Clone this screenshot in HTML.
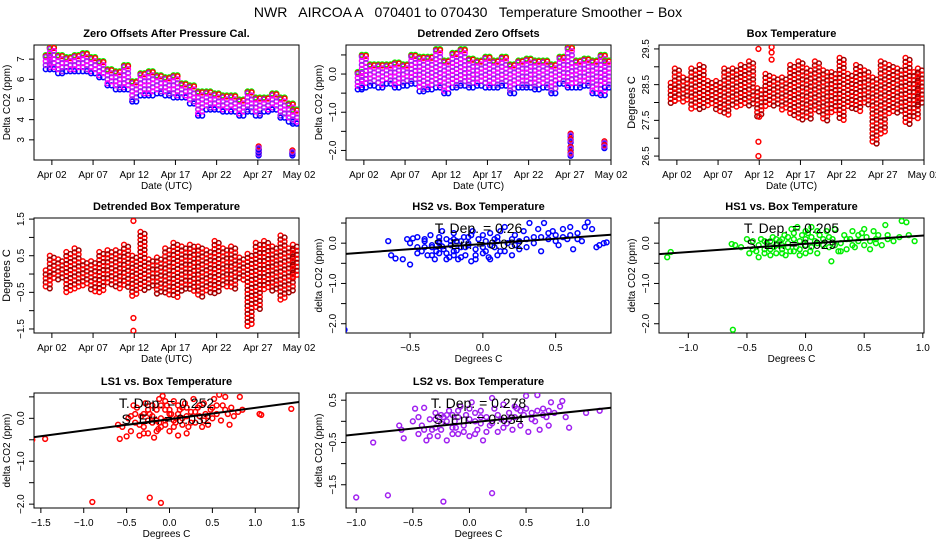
<!DOCTYPE html>
<html><head><meta charset="utf-8"><style>
html,body{margin:0;padding:0;background:#fff}
svg{display:block;font-family:"Liberation Sans",sans-serif}
</style></head><body>
<svg id="chart" width="936" height="540" viewBox="0 0 936 540" xmlns="http://www.w3.org/2000/svg">
<rect width="936" height="540" fill="#fff"/>
<text x="468" y="17" text-anchor="middle" font-size="14" style="white-space:pre" xml:space="preserve">NWR   AIRCOA A   070401 to 070430   Temperature Smoother − Box</text>
</svg>
<script>
// ---------- data ----------
const days = [0.5,1,2,3,4,5,6,7,8,9,10,11,12,13,14,15,16,17,18,19,20,21,22,23,24,25,26,27,28,29,30,30.5];
const zeroLo = [6.6,6.6,6.4,6.5,6.5,6.5,6.4,6.2,5.8,5.6,5.6,5.0,5.3,5.3,5.4,5.3,5.2,5.2,4.9,4.3,4.6,4.6,4.5,4.5,4.3,4.5,4.3,4.5,4.6,4.2,4.0,3.9];
const zeroHi = [7.1,7.5,7.1,7.0,7.1,7.2,7.0,6.8,6.4,6.3,6.6,5.8,6.2,6.3,6.1,6.0,6.1,5.7,5.6,5.3,5.3,5.2,5.1,5.1,4.9,5.3,5.0,5.0,5.2,5.0,4.7,4.4];
const zeroOut = [[26.1,2.3],[26.1,2.45],[26.1,2.6],[30.2,2.3],[30.2,2.4]];
const detLo = [-0.35,-0.3,-0.25,-0.3,-0.2,-0.3,-0.25,-0.2,-0.4,-0.35,-0.3,-0.45,-0.3,-0.25,-0.3,-0.25,-0.3,-0.3,-0.25,-0.45,-0.3,-0.3,-0.35,-0.3,-0.45,-0.2,-0.3,-0.3,-0.25,-0.45,-0.5,-0.3];
const detHi = [0.0,0.45,0.2,0.2,0.2,0.25,0.2,0.45,0.4,0.4,0.6,0.3,0.5,0.6,0.35,0.3,0.4,0.3,0.4,0.2,0.3,0.35,0.3,0.3,0.2,0.4,0.65,0.3,0.35,0.3,0.45,0.3];
const detOut = [[26.1,-1.6],[26.1,-1.75],[26.1,-1.95],[26.1,-2.1],[30.2,-1.8],[30.2,-1.9]];
const boxLo = [27.95,28.05,28.0,27.8,27.8,27.9,27.75,27.65,27.85,27.9,27.9,27.6,27.9,27.9,27.75,27.65,27.5,27.55,27.7,27.5,27.7,27.5,27.8,27.75,27.9,26.8,27.1,27.7,27.7,27.4,27.55,27.9];
const boxHi = [28.55,28.95,28.7,28.95,29.05,28.6,28.6,28.95,28.95,29.05,29.15,28.4,28.8,28.7,28.7,29.05,29.15,28.95,29.15,28.9,28.85,29.25,28.8,29.05,28.9,28.7,29.15,29.05,28.95,29.25,28.85,28.95];
const boxOut = [[10.9,29.5],[10.9,26.9],[10.9,26.5],[11,27.6],[12.5,29.55],[12.5,29.4],[12.5,29.2]];
const dbtLo = [-0.4,-0.2,-0.2,-0.5,-0.4,-0.35,-0.5,-0.5,-0.3,-0.4,-0.4,-0.6,-0.45,-0.4,-0.55,-0.6,-0.65,-0.5,-0.5,-0.65,-0.5,-0.55,-0.35,-0.4,-0.2,-1.45,-1.0,-0.45,-0.5,-0.75,-0.55,-0.1];
const dbtHi = [0.1,0.5,0.4,0.6,0.7,0.35,0.35,0.6,0.65,0.65,0.8,0.5,1.15,0.4,0.45,0.7,0.85,0.75,0.8,0.75,0.65,0.9,0.7,0.75,0.45,0.55,0.85,0.9,0.75,1.05,0.7,0.8];
const dbtOut = [[10.9,1.45],[10.9,-1.2],[10.9,-1.55]];
const dateTicks = [1,6,11,16,21,26,31];
const dateLabels = ["Apr 02","Apr 07","Apr 12","Apr 17","Apr 22","Apr 27","May 02"];

const hs2Pts = [[-0.65,0.05],[-0.63,-0.3],[-0.6,-0.38],[-0.55,-0.4],[-0.5,-0.53],[-0.52,0.1],[-0.48,0.12],[-0.45,-0.1],[-0.42,-0.2],[-0.4,0.05],[-0.38,-0.3],[-0.36,0.2],[-0.35,-0.1],[-0.33,-0.4],[-0.3,0.0],[-0.3,-0.25],[-0.28,0.3],[-0.27,-0.15],[-0.25,0.1],[-0.23,-0.35],[-0.22,-0.05],[-0.2,0.25],[-0.2,-0.2],[-0.18,0.05],[-0.17,-0.4],[-0.15,-0.1],[-0.13,0.15],[-0.12,-0.3],[-0.1,0.0],[-0.08,-0.45],[-0.07,0.3],[-0.05,-0.15],[-0.03,0.1],[0.0,-0.25],[0.02,0.05],[0.04,-0.35],[0.05,0.25],[0.08,-0.1],[0.1,0.15],[0.12,-0.2],[0.15,0.4],[0.17,0.0],[0.2,-0.3],[0.22,0.2],[0.25,0.05],[0.28,0.3],[0.3,-0.1],[0.32,0.5],[0.35,0.15],[0.38,0.35],[0.4,-0.2],[0.42,0.5],[0.45,0.1],[0.48,0.3],[0.5,0.2],[0.52,-0.05],[0.55,0.35],[0.58,0.1],[0.6,0.4],[0.62,-0.15],[0.65,0.25],[0.68,0.05],[0.7,0.4],[0.72,0.52],[0.75,0.35],[0.78,-0.1],[0.8,-0.05],[0.83,0.0],[0.85,0.02],[-0.95,-2.15],[-0.35,-0.05],[-0.25,-0.25],[-0.15,0.05],[-0.05,-0.3],[0.05,-0.05],[-0.3,0.15],[-0.2,-0.3],[-0.1,0.15],[0.0,0.2],[-0.4,-0.1],[0.1,-0.3],[0.2,0.1],[-0.12,-0.1],[-0.22,0.05],[0.08,0.1],[-0.32,-0.2],[-0.45,-0.25],[-0.35,-0.3],[-0.25,-0.4],[-0.15,-0.35],[-0.05,-0.4],[0.05,-0.4],[-0.4,0.1],[-0.3,0.05],[-0.2,0.1],[-0.1,-0.05],[0.0,-0.1],[0.1,0.05],[0.15,-0.2],[0.25,-0.15],[0.3,0.1],[0.35,0.0],[0.45,0.25],[0.5,0.05],[0.55,0.15],[0.6,0.2],[0.65,0.1],[-0.5,0.0],[-0.45,0.15],[-0.28,-0.08],[-0.18,-0.18],[-0.08,0.2],[0.02,-0.2],[0.12,0.3],[0.22,-0.05],[0.4,0.15]];
const hs1Pts = [[-1.18,-0.35],[-1.15,-0.22],[-0.63,-0.02],[-0.6,-0.05],[-0.62,-2.15],[-0.55,-0.1],[-0.5,0.1],[-0.48,-0.25],[-0.45,0.05],[-0.42,-0.2],[-0.4,-0.35],[-0.38,0.1],[-0.35,-0.15],[-0.33,0.0],[-0.3,-0.3],[-0.28,0.15],[-0.27,-0.1],[-0.25,-0.25],[-0.22,0.05],[-0.2,-0.15],[-0.18,0.2],[-0.17,-0.3],[-0.15,0.0],[-0.13,-0.2],[-0.12,0.35],[-0.1,0.1],[-0.08,-0.1],[-0.07,0.4],[-0.05,-0.3],[-0.03,0.2],[0.0,-0.05],[0.02,0.25],[0.04,-0.2],[0.05,0.4],[0.08,0.05],[0.1,-0.25],[0.12,0.2],[0.15,-0.05],[0.18,0.3],[0.2,-0.1],[0.22,-0.45],[0.23,0.1],[0.25,0.35],[0.28,-0.2],[0.3,0.0],[0.33,0.2],[0.35,-0.15],[0.38,0.1],[0.4,0.3],[0.42,-0.1],[0.45,0.05],[0.48,0.25],[0.5,-0.05],[0.52,0.15],[0.55,-0.15],[0.58,0.3],[0.6,0.0],[0.62,0.2],[0.65,-0.05],[0.68,0.45],[0.7,0.1],[0.75,0.05],[0.8,0.15],[0.82,0.55],[0.86,0.52],[0.88,0.2],[0.93,0.05],[-0.3,0.05],[-0.2,-0.05],[-0.1,-0.2],[0.0,0.1],[0.1,0.0],[-0.4,-0.05],[-0.15,0.15],[0.05,-0.1],[0.2,0.15],[-0.25,0.1],[-0.05,0.05],[-0.45,-0.15],[-0.35,0.05],[-0.25,-0.05],[-0.15,-0.1],[-0.05,-0.15],[0.05,0.15],[0.15,0.1],[0.25,-0.05],[0.35,0.1],[0.45,0.2],[0.55,0.05],[-0.3,-0.15],[-0.2,0.1],[-0.1,0.25],[0.0,0.3],[0.1,0.3],[-0.35,-0.25],[-0.2,-0.25],[0.0,-0.25],[0.3,-0.2],[0.4,-0.05],[0.5,0.35],[0.6,0.1],[0.7,0.2]];
const ls1Pts = [[-1.6,-0.5],[-1.45,-0.48],[-0.9,-1.95],[-0.23,-1.85],[-0.1,-1.97],[1.05,0.1],[1.07,0.08],[1.42,0.22],[-0.6,-0.15],[-0.58,-0.48],[-0.55,-0.2],[-0.5,-0.42],[-0.48,0.0],[-0.45,-0.3],[-0.42,0.3],[-0.4,-0.1],[-0.38,0.25],[-0.35,-0.4],[-0.33,0.05],[-0.3,-0.2],[-0.28,0.35],[-0.25,-0.35],[-0.23,0.1],[-0.2,-0.1],[-0.18,-0.45],[-0.15,0.2],[-0.13,-0.25],[-0.12,0.45],[-0.1,0.0],[-0.08,0.52],[-0.05,-0.15],[-0.03,0.3],[0.0,-0.3],[0.02,0.1],[0.05,0.4],[0.07,-0.1],[0.1,-0.4],[0.12,0.2],[0.15,0.0],[0.18,0.35],[0.2,-0.35],[0.22,-0.2],[0.25,0.15],[0.28,0.45],[0.3,-0.1],[0.33,0.25],[0.35,0.05],[0.38,-0.2],[0.4,0.35],[0.42,0.1],[0.45,-0.15],[0.48,0.2],[0.5,0.0],[0.52,0.45],[0.55,0.1],[0.58,0.55],[0.6,-0.05],[0.62,0.3],[0.65,0.5],[0.68,0.1],[0.7,-0.15],[0.72,0.25],[0.75,0.05],[0.8,0.15],[0.82,0.5],[0.85,0.2],[-0.2,0.05],[-0.1,-0.2],[0.0,0.1],[0.1,0.1],[-0.3,0.1],[-0.15,-0.05],[0.05,-0.05],[-0.05,0.2],[-0.25,-0.05],[0.15,-0.15],[0.2,0.25],[-0.4,0.1],[-0.35,-0.15],[-0.25,0.2],[-0.15,-0.3],[-0.05,0.4],[0.05,-0.2],[0.15,0.25],[0.25,-0.1],[0.35,0.3],[0.45,0.05],[0.55,0.3],[0.65,0.2],[-0.45,0.05],[-0.2,0.3],[-0.1,0.3],[0.0,0.2],[0.1,0.3],[-0.3,-0.35],[-0.12,-0.1],[0.08,0.0],[0.3,0.15],[0.4,-0.05],[0.5,0.25],[-0.05,-0.05],[0.2,0.05]];
const ls2Pts = [[-1.0,-1.8],[-0.72,-1.75],[-0.23,-1.9],[0.2,-1.7],[-0.85,-0.5],[1.03,0.2],[1.15,0.25],[0.88,-0.15],[-0.62,-0.1],[-0.6,-0.2],[-0.58,-0.4],[-0.5,0.0],[-0.48,0.3],[-0.45,-0.3],[-0.42,-0.1],[-0.4,0.32],[-0.38,-0.45],[-0.35,0.05],[-0.33,-0.2],[-0.3,0.2],[-0.28,-0.35],[-0.25,-0.05],[-0.23,0.1],[-0.2,-0.45],[-0.18,0.25],[-0.15,-0.15],[-0.13,0.0],[-0.1,-0.3],[-0.08,0.35],[-0.05,-0.1],[-0.03,0.15],[0.0,-0.35],[0.02,0.45],[0.05,0.0],[0.07,-0.2],[0.1,0.25],[0.12,-0.45],[0.15,0.1],[0.18,-0.1],[0.2,0.55],[0.22,0.3],[0.25,-0.25],[0.28,0.05],[0.3,0.4],[0.33,-0.05],[0.35,0.2],[0.38,-0.2],[0.4,0.1],[0.42,0.3],[0.45,-0.1],[0.48,0.15],[0.5,0.6],[0.52,-0.25],[0.55,0.2],[0.58,0.0],[0.6,0.62],[0.62,-0.2],[0.65,0.3],[0.68,0.1],[0.7,-0.1],[0.72,0.45],[0.75,0.2],[0.8,0.35],[0.82,0.48],[0.85,0.1],[-0.2,0.0],[-0.1,0.1],[0.0,0.05],[0.1,-0.05],[-0.3,-0.15],[-0.15,0.15],[0.05,0.2],[0.2,-0.05],[-0.25,0.15],[-0.4,-0.2],[-0.35,-0.35],[-0.25,-0.2],[-0.15,-0.3],[-0.05,-0.25],[0.05,-0.3],[0.15,-0.25],[0.25,0.15],[0.35,0.05],[0.45,0.25],[0.55,0.05],[0.65,0.15],[-0.3,0.05],[-0.2,0.15],[-0.1,0.25],[0.0,0.3],[0.1,0.1],[0.3,-0.15],[0.4,0.35],[0.5,0.3],[0.6,0.25],[0.7,0.25],[-0.45,0.1],[-0.12,-0.15]];
const fitSlope = [0.26,0.205,0.265,0.28];
const fitIntercept = [-0.02,-0.015,-0.02,-0.03];
const fitTDep = ["0.26","0.205","0.252","0.278"];
const fitSErr = ["0.032","0.029","0.032","0.034"];

// ---------- drawing ----------
const NS = "http://www.w3.org/2000/svg";
const svg = document.getElementById('chart');
function mk(tag, attrs, parent, text){
  const e = document.createElementNS(NS, tag);
  for (const k in attrs) e.setAttribute(k, attrs[k]);
  if (text !== undefined) e.textContent = text;
  (parent || svg).appendChild(e);
  return e;
}
function fmt(v){ const s = Math.abs(v).toFixed(1); return (v < 0 ? "−" : "") + s; }

function panel(o){
  const g = mk('g', {});
  
  
  const sx = v => o.x0 + (v - o.xd[0]) / (o.xd[1] - o.xd[0]) * o.w;
  const sy = v => o.y0 + o.h - (v - o.yd[0]) / (o.yd[1] - o.yd[0]) * o.h;
  const t = mk('text', {x: o.x0 + o.w/2, y: o.y0 - 8, 'text-anchor':'middle', 'font-size':11, 'font-weight':'bold'}, g, o.title);
  
  
  const b = mk('rect', {x:o.x0, y:o.y0, width:o.w, height:o.h, fill:'none', stroke:'#000', 'stroke-width':1}, g);
  
  
  const xa = mk('g', {}, g);
  
  
  const bx = o.y0 + o.h;
  mk('line', {x1:sx(o.xticks[0]), x2:sx(o.xticks[o.xticks.length-1]), y1:bx, y2:bx, stroke:'#000'}, xa);
  o.xticks.forEach((v,i) => {
    mk('line', {x1:sx(v), x2:sx(v), y1:bx, y2:bx+5, stroke:'#000'}, xa);
    const lb = o.xlabels[i];
    if (lb) mk('text', {x:sx(v), y:bx+18, 'text-anchor':'middle', 'font-size':10}, xa, lb);
  });
  const xt = mk('text', {x:o.x0 + o.w/2, y:bx+29, 'text-anchor':'middle', 'font-size':10}, g, o.xtitle);
  
  
  const ya = mk('g', {}, g);
  
  
  mk('line', {x1:o.x0, x2:o.x0, y1:sy(o.yticks[0]), y2:sy(o.yticks[o.yticks.length-1]), stroke:'#000'}, ya);
  o.yticks.forEach(v => {
    mk('line', {x1:o.x0-5, x2:o.x0, y1:sy(v), y2:sy(v), stroke:'#000'}, ya);
    if (o.ylabels.some(l => Math.abs(l - v) < 1e-9)) {
      const x = o.x0 - 10, y = sy(v);
      mk('text', {x:x, y:y, 'text-anchor':'middle', 'font-size':10, transform:`rotate(-90 ${x} ${y})`}, ya, o.yfmt ? o.yfmt(v) : fmt(v));
    }
  });
  const yx = o.x0 - 24, yy = o.y0 + o.h/2;
  const yt = mk('text', {x:yx, y:yy, 'text-anchor':'middle', 'font-size':o.ytsize || 10, transform:`rotate(-90 ${yx} ${yy})`}, g, o.ytitle);
  
  
  const clip = 'c' + Math.round(o.x0) + '_' + Math.round(o.y0);
  const cp = mk('clipPath', {id:clip}, g);
  mk('rect', {x:o.x0, y:o.y0, width:o.w, height:o.h}, cp);
  const marks = mk('g', {'clip-path':`url(#${clip})`}, g);
  
  
  return {sx, sy, g:marks};
}
function dot(p, x, y, stroke, name){
  const c = mk('circle', {cx:x, cy:y, r:2.4, fill:'none', stroke:stroke, 'stroke-width':1.5}, p);
  
  
  return c;
}
function band(P, lo, hi, out, colors, layered){
  days.forEach((d,i) => {
    const col = mk('g', {}, P.g);
    
    
    [-2,2].forEach((off, j) => {
      const x = P.sx(d) + off;
      const yTop = P.sy(hi[i]), yBot = P.sy(lo[i]);
      if (layered) {
        dot(col, x, yBot + 2, '#0000ff', 'hs2-point');
        dot(col, x, yTop - 2, '#00ff00', 'hs1-point');
        dot(col, x, yTop - 1, '#ff0000', 'ls1-point');
      }
      let k = 0;
      for (let y = yTop + j*2; y <= yBot + 0.01; y += 4, k++) {
        dot(col, x, y, colors[(k + j) % colors.length], 'point');
      }
      if (yBot - yTop < 4) dot(col, x, yBot, colors[0], 'point');
    });
  });
  out.forEach(p => {
    if (layered) { dot(P.g, P.sx(p[0]), P.sy(p[1]) + 1.5, '#0000ff', 'outlier'); dot(P.g, P.sx(p[0]), P.sy(p[1]) - 1.5, '#ff0000', 'outlier'); }
    dot(P.g, P.sx(p[0]), P.sy(p[1]), colors[0], 'outlier');
  });
}

const colX = [34, 346, 659], rowY = [45, 218, 393], W = 265, H = 115;
const dateDom = [-1.17, 31];
const dateOpts = {xd:dateDom, xticks:dateTicks, xlabels:dateLabels, xtitle:'Date (UTC)', w:W, h:H};

let P = panel(Object.assign({name:'zero-offsets-panel', x0:colX[0], y0:rowY[0], yd:[2.0,7.7], yticks:[3,4,5,6,7], ylabels:[3,4,5,6,7], yfmt:v=>String(v), title:'Zero Offsets After Pressure Cal.', ytitle:'Delta CO2 (ppm)'}, dateOpts));
band(P, zeroLo, zeroHi, zeroOut, ['#a020f0','#ff00ff'], true);
P = panel(Object.assign({name:'detrended-zero-offsets-panel', x0:colX[1], y0:rowY[0], yd:[-2.25,0.76], yticks:[-2,-1.5,-1,-0.5,0,0.5], ylabels:[-2,-1,0], title:'Detrended Zero Offsets', ytitle:'Delta CO2 (ppm)'}, dateOpts));
band(P, detLo, detHi, detOut, ['#a020f0','#ff00ff'], true);
P = panel(Object.assign({name:'box-temperature-panel', x0:colX[2], y0:rowY[0], yd:[26.39,29.61], yticks:[26.5,27,27.5,28,28.5,29,29.5], ylabels:[26.5,27.5,28.5,29.5], title:'Box Temperature', ytitle:'Degrees C', ytsize:11}, dateOpts));
band(P, boxLo, boxHi, boxOut, ['#ff0000','#a00000'], false);
P = panel(Object.assign({name:'detrended-box-temperature-panel', x0:colX[0], y0:rowY[1], yd:[-1.61,1.53], yticks:[-1.5,-1,-0.5,0,0.5,1,1.5], ylabels:[-1.5,-0.5,0.5,1.5], title:'Detrended Box Temperature', ytitle:'Degrees C', ytsize:11}, dateOpts));
band(P, dbtLo, dbtHi, dbtOut, ['#ff0000','#a00000'], false);

function scatter(o, pts, color, idx){
  const P = panel(Object.assign({w:W, h:H, xtitle:'Degrees C', ytitle:'delta CO2 (ppm)'}, o));
  pts.forEach(p => {
    dot(P.g, P.sx(p[0]), P.sy(p[1]), color, 'scatter-point');
  });
  const ln = mk('line', {x1:P.sx(o.xd[0]), y1:P.sy(fitIntercept[idx] + fitSlope[idx]*o.xd[0]), x2:P.sx(o.xd[1]), y2:P.sy(fitIntercept[idx] + fitSlope[idx]*o.xd[1]), stroke:'#000', 'stroke-width':2}, P.g);
  
  
  const cx = o.x0 + W/2;
  const t1 = mk('text', {x:cx, y:o.y0 + 15, 'text-anchor':'middle', 'font-size':14}, P.g, 'T. Dep. = ' + fitTDep[idx]);
  
  
  const t2 = mk('text', {x:cx, y:o.y0 + 31, 'text-anchor':'middle', 'font-size':14}, P.g, 'S. Err. = ' + fitSErr[idx]);
  
  
}
const yT = [-2,-1.5,-1,-0.5,0,0.5];
scatter({name:'hs2-vs-box-temperature-panel', x0:colX[1], y0:rowY[1], xd:[-0.94,0.88], yd:[-2.23,0.625], xticks:[-0.5,0,0.5], xlabels:['−0.5','0.0','0.5'], yticks:yT, ylabels:[-2,-1,0], title:'HS2 vs. Box Temperature'}, hs2Pts, '#0000ff', 0);
scatter({name:'hs1-vs-box-temperature-panel', x0:colX[2], y0:rowY[1], xd:[-1.25,1.01], yd:[-2.23,0.625], xticks:[-1,-0.5,0,0.5,1], xlabels:['−1.0','−0.5','0.0','0.5','1.0'], yticks:yT, ylabels:[-2,-1,0], title:'HS1 vs. Box Temperature'}, hs1Pts, '#00ee00', 1);
scatter({name:'ls1-vs-box-temperature-panel', x0:colX[0], y0:rowY[2], xd:[-1.58,1.51], yd:[-2.09,0.59], xticks:[-1.5,-1,-0.5,0,0.5,1,1.5], xlabels:['−1.5','−1.0','−0.5','0.0','0.5','1.0','1.5'], yticks:yT, ylabels:[-2,-1,0], title:'LS1 vs. Box Temperature'}, ls1Pts, '#ff0000', 2);
scatter({name:'ls2-vs-box-temperature-panel', x0:colX[1], y0:rowY[2], xd:[-1.09,1.25], yd:[-2.05,0.67], xticks:[-1,-0.5,0,0.5,1], xlabels:['−1.0','−0.5','0.0','0.5','1.0'], yticks:[-1.5,-1,-0.5,0,0.5], ylabels:[-1.5,-0.5,0.5], title:'LS2 vs. Box Temperature'}, ls2Pts, '#a020f0', 3);
</script>
</body></html>
